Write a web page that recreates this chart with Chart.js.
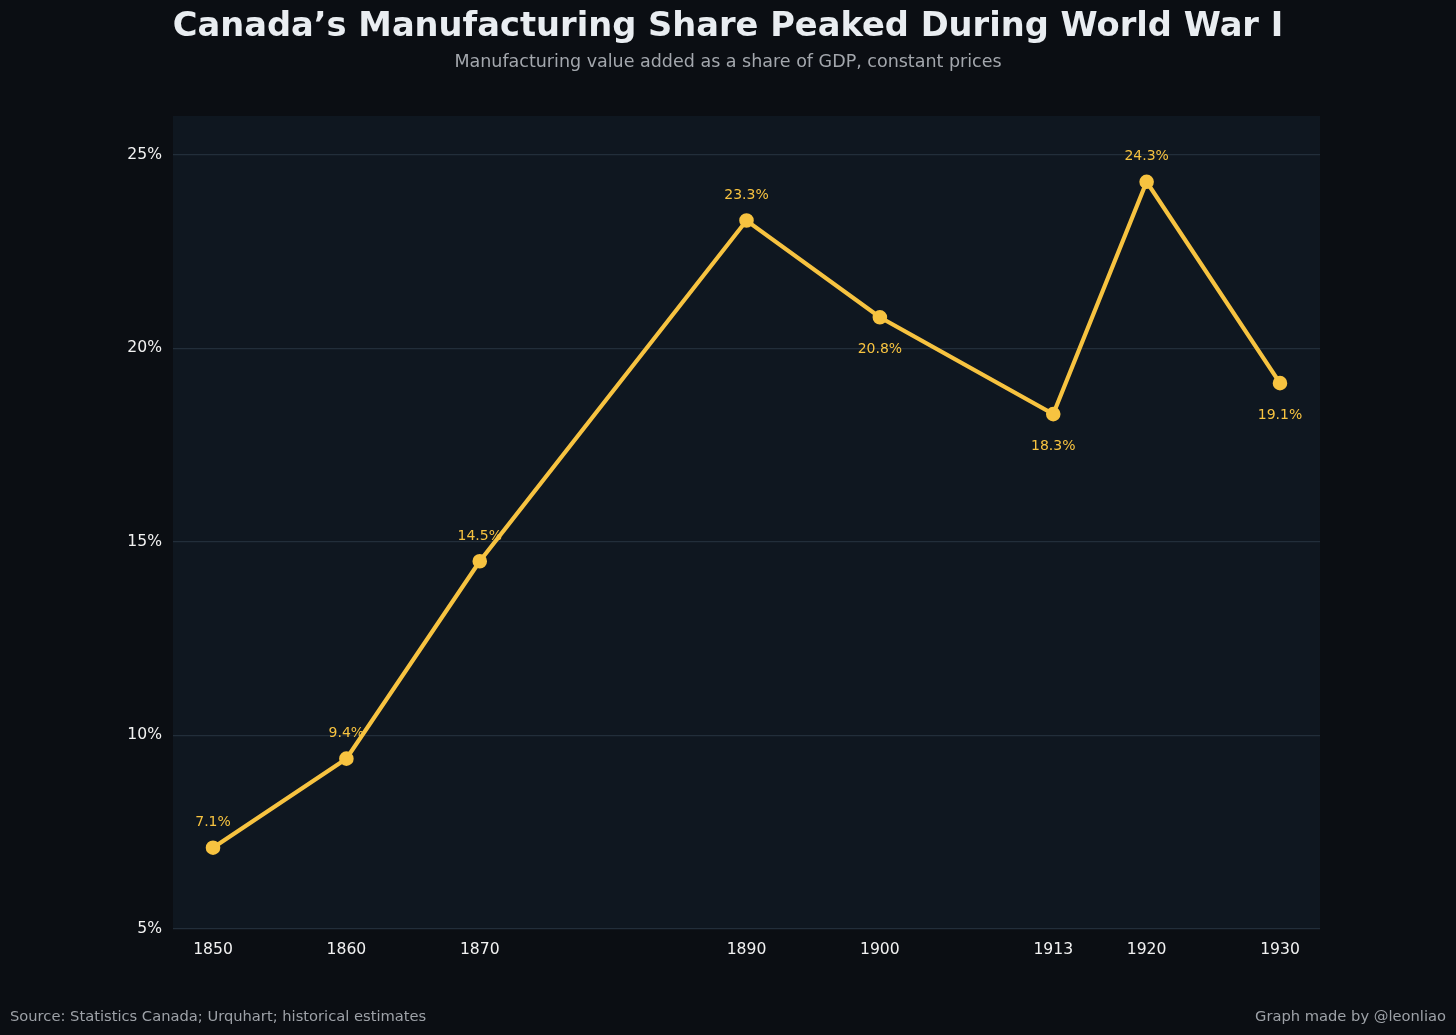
<!DOCTYPE html>
<html>
<head>
<meta charset="utf-8">
<script src="https://cdn.jsdelivr.net/npm/chart.js@4.4.0/dist/chart.umd.min.js"></script>
<style>
  html, body { margin: 0; padding: 0; background: #0b0e13; }
  #wrap { width: 1456px; height: 1035px; position: relative; }
</style>
</head>
<body>
<div id="wrap"><canvas id="mfg_chart" width="1456" height="1035"></canvas></div>
<script>
var years = [1850, 1860, 1870, 1890, 1900, 1913, 1920, 1930];
var shares = [7.1, 9.4, 14.5, 23.3, 20.8, 18.3, 24.3, 19.1];
// which labels sit under the point instead of above it
var labelBelow = [false, false, false, false, true, true, false, true];
var yTicks = [5, 10, 15, 20, 25];

var titleText = "Canada\u2019s Manufacturing Share Peaked During World War I";
var subtitleText = "Manufacturing value added as a share of GDP, constant prices";
var sourceText = "Source: Statistics Canada; Urquhart; historical estimates";
var creditText = "Graph made by @leonliao";

var FONT = "'DejaVu Sans', sans-serif";
var GOLD = '#f7c340';

var points = [];
for (var i = 0; i < years.length; i++) {
    points.push({ x: years[i], y: shares[i] });
}

var plotBackground = {
    id: 'plotBackground',
    beforeDraw: function (chart) {
        var ctx = chart.ctx;
        var a = chart.chartArea;
        ctx.save();
        ctx.fillStyle = '#0b0e13';
        ctx.fillRect(0, 0, chart.width, chart.height);
        ctx.fillStyle = '#0f1720';
        ctx.fillRect(a.left, a.top, a.right - a.left, a.bottom - a.top);
        ctx.restore();
    }
};

var textLayer = {
    id: 'textLayer',
    afterDraw: function (chart) {
        var ctx = chart.ctx;
        ctx.save();
        ctx.textAlign = 'center';
        ctx.textBaseline = 'middle';
        ctx.fillStyle = '#e9edf1';
        ctx.font = 'bold 33.7px ' + FONT;
        ctx.fillText(titleText, 728, 27);
        ctx.fillStyle = '#a3a7ad';
        ctx.font = '17.5px ' + FONT;
        ctx.fillText(subtitleText, 728, 62);

        ctx.font = '14.7px ' + FONT;
        ctx.fillStyle = '#9da1a7';
        ctx.textAlign = 'left';
        ctx.fillText(sourceText, 10, 1017);
        ctx.textAlign = 'right';
        ctx.fillText(creditText, 1446, 1017);

        // value labels
        var meta = chart.getDatasetMeta(0);
        ctx.font = '14px ' + FONT;
        ctx.fillStyle = GOLD;
        ctx.textAlign = 'center';
        meta.data.forEach(function (pt, idx) {
            var dy = labelBelow[idx] ? 32 : -25;
            ctx.fillText(shares[idx].toFixed(1) + '%', pt.x, pt.y + dy);
        });
        ctx.restore();
    }
};

var chart = new Chart(document.getElementById('mfg_chart').getContext('2d'), {
    type: 'scatter',
    data: {
        datasets: [{
            label: 'Manufacturing share',
            data: points,
            showLine: true,
            borderColor: GOLD,
            backgroundColor: GOLD,
            borderWidth: 4.2,
            pointRadius: 5.2,
            pointHoverRadius: 5.2,
            tension: 0
        }]
    },
    options: {
        responsive: false,
        animation: false,
        devicePixelRatio: 1,
        layout: { padding: { top: 116, right: 136, bottom: 0, left: 0 } },
        plugins: {
            legend: { display: false },
            tooltip: { enabled: false }
        },
        scales: {
            x: {
                type: 'linear',
                min: 1847,
                max: 1933,
                afterBuildTicks: function (scale) {
                    scale.ticks = years.map(function (v) { return { value: v }; });
                },
                afterFit: function (scale) { scale.height = 106; },
                grid: { display: false },
                border: { display: false },
                ticks: {
                    color: '#f2f2f2',
                    font: { family: FONT, size: 15.6 },
                    padding: 4,
                    maxRotation: 0,
                    autoSkip: false,
                    callback: function (v) { return String(v); }
                }
            },
            y: {
                min: 5,
                max: 26,
                afterBuildTicks: function (scale) {
                    scale.ticks = yTicks.map(function (v) { return { value: v }; });
                },
                afterFit: function (scale) { scale.width = 173; },
                grid: { color: '#222e3a', lineWidth: 1.2, drawTicks: false },
                border: { display: false },
                ticks: {
                    color: '#f2f2f2',
                    font: { family: FONT, size: 15.6 },
                    padding: 11,
                    callback: function (v) { return v + '%'; }
                }
            }
        }
    },
    plugins: [plotBackground, textLayer]
});
</script>
</body>
</html>
